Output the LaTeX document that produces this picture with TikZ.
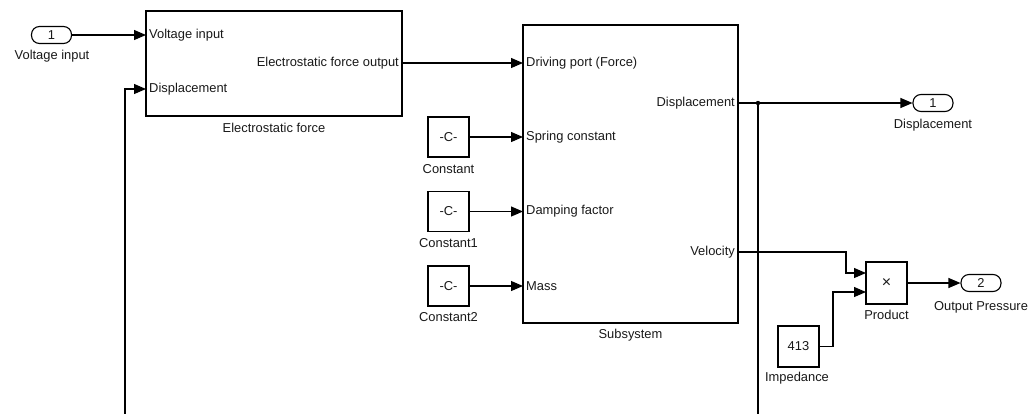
\documentclass[tikz,border=0pt]{standalone}
\usepackage{fontspec}
\setmainfont{Liberation Sans}
\usetikzlibrary{arrows.meta}
\begin{document}
\begin{tikzpicture}[x=1pt,y=-1pt,
  every node/.style={font=\fontsize{12.9}{14}\selectfont, inner sep=0pt, text=black!90},
  blk/.style={draw, line width=1.2pt, minimum width=#1},
  port/.style={draw, rounded corners=8pt, line width=1.1pt, minimum width=40pt, minimum height=17pt},
  wire/.style={line width=1.1pt, -{Triangle[length=12pt,width=10pt]}},
  plain/.style={line width=1.1pt}]
\useasboundingbox (0,0) rectangle (1034,413);
% blocks
\node[blk=256pt, minimum height=105pt] (ef) at (274,63.5) {};
\node[blk=215pt, minimum height=298pt] (sub) at (630.5,174) {};
\node[blk=41pt, minimum height=40pt] (c0) at (448.5,137) {-C-};
\node[blk=41pt, minimum height=40pt] (c1) at (448.5,211.5) {-C-};
\node[blk=41pt, minimum height=40pt] (c2) at (448.5,286) {-C-};
\node[blk=41pt, minimum height=42pt] (prod) at (886.5,283) {\fontsize{16}{16}\selectfont ×};
\node[blk=41pt, minimum height=41pt] (imp) at (798.5,346.5) {413};
\node[port] (in1) at (51.5,35) {1};
\node[port] (out1) at (933,103) {1};
\node[port] (out2) at (981,283) {2};
% block labels
\node (lin1) at (52,56) {Voltage input};
\node (lef) at (274,128) {Electrostatic force};
\node (lsub) at (630.5,335) {Subsystem};
\node (lc0) at (448.5,169) {Constant};
\node (lc1) at (448.5,243) {Constant1};
\node (lc2) at (448.5,317) {Constant2};
\node (lprod) at (886.5,315) {Product};
\node (limp) at (797,378) {Impedance};
\node (lout1) at (933,125) {Displacement};
\node (lout2) at (981,307) {Output Pressure};
% port coordinates
\coordinate (efVin) at (146,35);
\coordinate (efDisp) at (146,89);
\coordinate (efOut) at (402,63);
\coordinate (sDrv) at (523,63);
\coordinate (sSpr) at (523,137);
\coordinate (sDmp) at (523,211.5);
\coordinate (sMass) at (523,286);
\coordinate (sDisp) at (738,103);
\coordinate (sVel) at (738,252);
\coordinate (pIn1) at (866,273);
\coordinate (pIn2) at (866,292);
\coordinate (br) at (758,103);
\coordinate (fb1) at (758,420);
\coordinate (fb2) at (125,420);
\coordinate (fb3) at (125,89);
\coordinate (v1) at (846,252);
\coordinate (v2) at (846,273);
\coordinate (i1) at (833,346.5);
\coordinate (i2) at (833,292);
% port labels
\node[anchor=west] at (149,35) {Voltage input};
\node[anchor=west] at (149,89) {Displacement};
\node[anchor=east] at (399,63) {Electrostatic force output};
\node[anchor=west] at (526,63) {Driving port (Force)};
\node[anchor=west] at (526,137) {Spring constant};
\node[anchor=west] at (526,211.5) {Damping factor};
\node[anchor=west] at (526,286) {Mass};
\node[anchor=east] at (735,103) {Displacement};
\node[anchor=east] at (735,252) {Velocity};
% wires
\draw[wire] (in1.east) -- (efVin);
\draw[wire] (efOut) -- (sDrv);
\draw[wire] (c0.east) -- (sSpr);
\draw[wire] (c1.east) -- (sDmp);
\draw[wire] (c2.east) -- (sMass);
\draw[wire] (sDisp) -- (out1.west);
\fill (br) circle (2.2pt);
\draw[wire] (br) -- (fb1) -- (fb2) -- (fb3) -- (efDisp);
\draw[wire] (sVel) -- (v1) -- (v2) -- (pIn1);
\draw[wire] (imp.east) -- (i1) -- (i2) -- (pIn2);
\draw[wire] (prod.east) -- (out2.west);
\end{tikzpicture}
\end{document}
